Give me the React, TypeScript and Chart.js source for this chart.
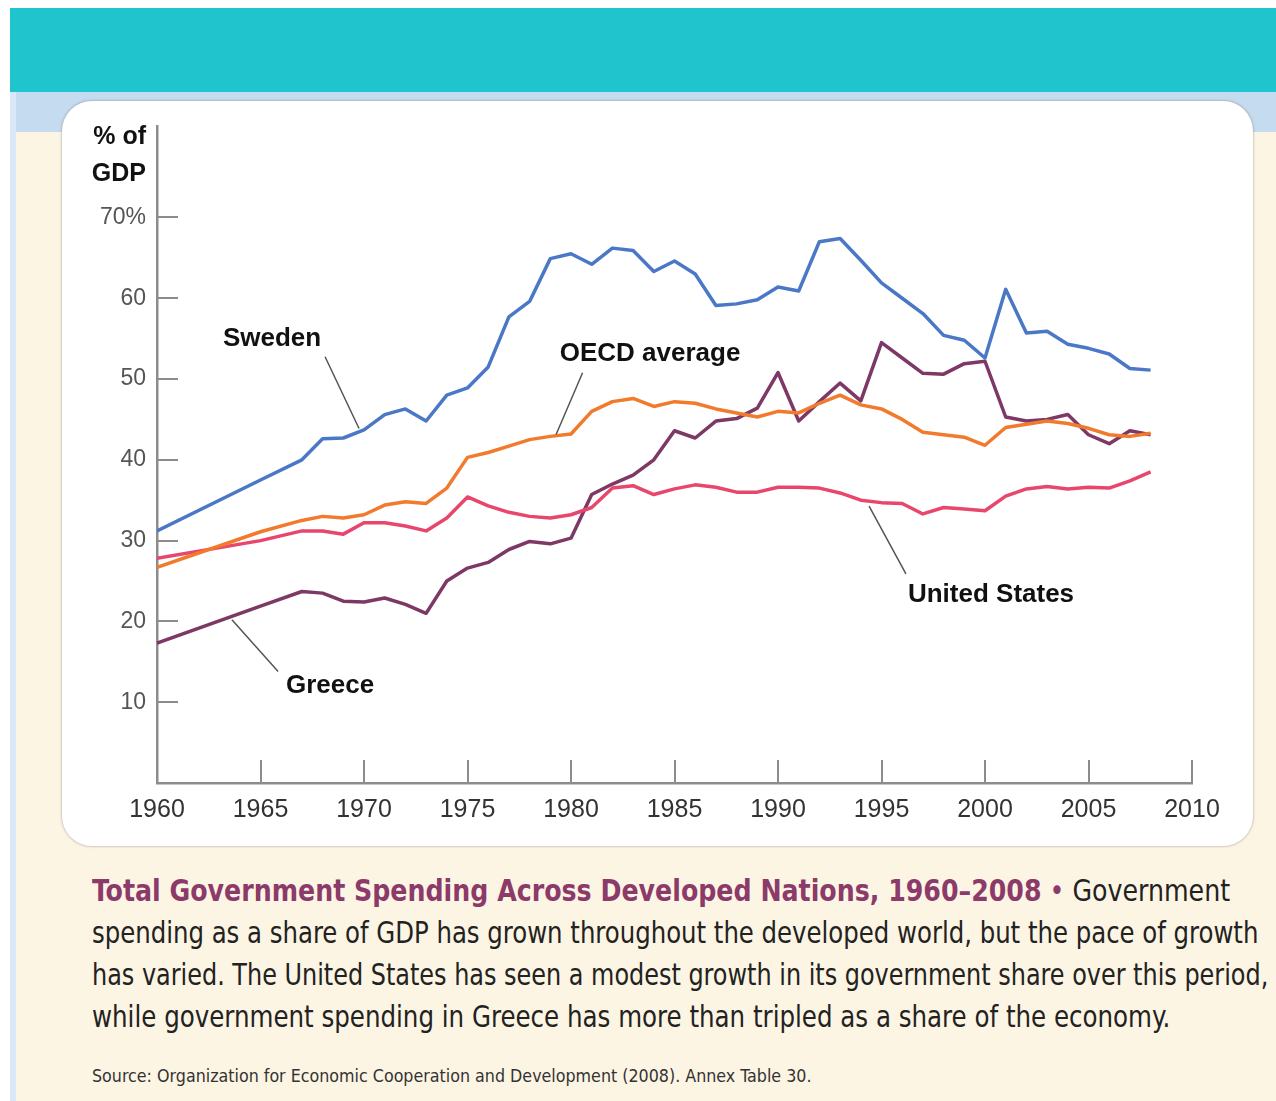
import React, { useEffect, useLayoutEffect, useRef } from "react";
import { Chart, registerables } from "chart.js";

Chart.register(...registerables);

// Years on the horizontal axis (gaps where the series are drawn as straight runs)
const years = [
  1960, 1961, 1962, 1963, 1964, 1965, 1966, 1967, 1968, 1969,
  1970, 1971, 1972, 1973, 1974, 1975, 1976, 1977, 1978, 1979,
  1980, 1981, 1982, 1983, 1984, 1985, 1986, 1987, 1988, 1989,
  1990, 1991, 1992, 1993, 1994, 1995, 1996, 1997, 1998, 1999,
  2000, 2001, 2002, 2003, 2004, 2005, 2006, 2007, 2008,
];

// Government spending, % of GDP
const sweden = [
  31.2, null, null, null, null, 37.5, null, 40.0, 42.6, 42.7,
  43.7, 45.6, 46.3, 44.8, 48.0, 48.9, 51.5, 57.7, 59.6, 64.9,
  65.5, 64.2, 66.2, 65.9, 63.3, 64.6, 63.0, 59.1, 59.3, 59.8,
  61.4, 60.9, 67.0, 67.4, 64.7, 61.9, 60.0, 58.1, 55.4, 54.8,
  52.6, 61.1, 55.7, 55.9, 54.3, 53.8, 53.1, 51.3, 51.1,
];
const oecdAverage = [
  26.7, null, null, null, null, 31.1, null, 32.5, 33.0, 32.8,
  33.2, 34.4, 34.8, 34.6, 36.5, 40.3, 40.9, 41.7, 42.5, 42.9,
  43.2, 46.0, 47.2, 47.6, 46.6, 47.2, 47.0, 46.3, 45.8, 45.3,
  46.0, 45.8, 47.0, 48.0, 46.8, 46.3, 45.0, 43.4, 43.1, 42.8,
  41.8, 44.0, 44.4, 44.8, 44.5, 43.9, 43.1, 42.9, 43.3,
];
const unitedStates = [
  27.8, null, null, null, null, 30.0, null, 31.2, 31.2, 30.8,
  32.2, 32.2, 31.8, 31.2, 32.8, 35.4, 34.3, 33.5, 33.0, 32.8,
  33.2, 34.1, 36.5, 36.8, 35.7, 36.4, 36.9, 36.6, 36.0, 36.0,
  36.6, 36.6, 36.5, 35.9, 35.0, 34.7, 34.6, 33.3, 34.1, 33.9,
  33.7, 35.5, 36.4, 36.7, 36.4, 36.6, 36.5, 37.4, 38.5,
];
const greece = [
  17.3, null, null, null, null, 21.9, null, 23.7, 23.5, 22.5,
  22.4, 22.9, 22.1, 21.0, 25.0, 26.6, 27.3, 28.9, 29.9, 29.6,
  30.3, 35.7, 37.0, 38.1, 40.0, 43.6, 42.7, 44.8, 45.1, 46.4,
  50.8, 44.8, 47.2, 49.5, 47.3, 54.5, 52.6, 50.7, 50.6, 51.9,
  52.2, 45.3, 44.8, 45.0, 45.6, 43.1, 42.0, 43.6, 43.1,
];

const xTicks = [1960, 1965, 1970, 1975, 1980, 1985, 1990, 1995, 2000, 2005, 2010];
const yTicks = [10, 20, 30, 40, 50, 60, 70];

const seriesNames = ["Sweden", "OECD average", "United States", "Greece"];
const seriesColors = ["#4a77c6", "#f27a2c", "#e8466c", "#7e3865"];

// Name tags with leader lines, placed in data coordinates
const nameTags = [
  { text: "Sweden", at: [1965.56, 54.97], from: [1968.12, 52.75], to: [1969.76, 43.87] },
  { text: "OECD average", at: [1983.82, 53.12], from: [1980.56, 50.78], to: [1979.28, 43.14] },
  { text: "United States", at: [2000.29, 23.29], from: [1994.4, 34.26], to: [1996.18, 25.88] },
  { text: "Greece", at: [1968.36, 12.08], from: [1963.62, 20.21], to: [1965.85, 13.8] },
];

const captionLines = [
  "spending as a share of GDP has grown throughout the developed world, but the pace of growth",
  "has varied. The United States has seen a modest growth in its government share over this period,",
  "while government spending in Greece has more than tripled as a share of the economy.",
];

const SANS = '"Liberation Sans", Arial, sans-serif';
const NARROW = '"Liberation Sans Narrow", "DejaVu Sans Condensed", "Liberation Sans", sans-serif';

// Draws the inward tick marks and the series name tags
const decorations = {
  id: "decorations",
  afterDraw(chart: any) {
    const { ctx, chartArea, scales } = chart;
    const x = scales.x;
    const y = scales.y;
    ctx.save();
    ctx.strokeStyle = "#8c8c8c";
    ctx.lineWidth = 2;
    ctx.beginPath();
    for (const v of yTicks) {
      const py = Math.round(y.getPixelForValue(v));
      ctx.moveTo(chartArea.left, py);
      ctx.lineTo(chartArea.left + 21, py);
    }
    for (const v of xTicks) {
      if (v === xTicks[0]) continue;
      const px = Math.round(x.getPixelForValue(v));
      ctx.moveTo(px, chartArea.bottom);
      ctx.lineTo(px, chartArea.bottom - 23);
    }
    ctx.stroke();

    ctx.strokeStyle = "#555";
    ctx.lineWidth = 1.5;
    ctx.beginPath();
    for (const t of nameTags) {
      ctx.moveTo(x.getPixelForValue(t.from[0]), y.getPixelForValue(t.from[1]));
      ctx.lineTo(x.getPixelForValue(t.to[0]), y.getPixelForValue(t.to[1]));
    }
    ctx.stroke();

    ctx.fillStyle = "#111";
    ctx.font = `bold 26px ${SANS}`;
    ctx.textAlign = "center";
    ctx.textBaseline = "middle";
    for (const t of nameTags) {
      ctx.fillText(t.text, x.getPixelForValue(t.at[0]), y.getPixelForValue(t.at[1]));
    }
    ctx.restore();
  },
};

function FitLine({ width, style, children }: { width: number; style?: any; children: any }) {
  const ref = useRef<HTMLSpanElement>(null);
  useLayoutEffect(() => {
    const el = ref.current;
    if (!el) return;
    const w = el.offsetWidth;
    if (w > 0) el.style.transform = `scaleX(${width / w})`;
  });
  return (
    <span
      ref={ref}
      style={{
        display: "inline-block",
        whiteSpace: "nowrap",
        transformOrigin: "left center",
        ...style,
      }}
    >
      {children}
    </span>
  );
}

function SpendingChart() {
  const canvasRef = useRef<HTMLCanvasElement>(null);

  useEffect(() => {
    const canvas = canvasRef.current;
    if (!canvas) return;
    const series = [sweden, oecdAverage, unitedStates, greece];
    const chart = new Chart(canvas, {
      type: "line",
      data: {
        datasets: series.map((vals, i) => ({
          label: seriesNames[i],
          data: years.map((yr, j) => ({ x: yr, y: vals[j] })),
          borderColor: seriesColors[i],
          backgroundColor: seriesColors[i],
          borderWidth: 3.5,
          pointRadius: 0,
          tension: 0,
          spanGaps: true,
          borderJoinStyle: "round",
        })),
      },
      options: {
        responsive: false,
        animation: false,
        devicePixelRatio: 1,
        layout: { padding: { left: 0, right: 61, top: 22, bottom: 23 } },
        plugins: { legend: { display: false }, tooltip: { enabled: false } },
        scales: {
          x: {
            type: "linear",
            min: 1960,
            max: 2010,
            afterBuildTicks: (scale: any) => {
              scale.ticks = xTicks.map((v) => ({ value: v }));
            },
            afterFit: (scale: any) => {
              scale.height = 40;
            },
            grid: { display: false, drawTicks: false },
            border: { display: true, color: "#8c8c8c", width: 2.5 },
            ticks: {
              padding: 12,
              color: "#333",
              font: { family: SANS, size: 25 },
              maxRotation: 0,
              autoSkip: false,
              callback: (v: any) => String(v),
            },
          },
          y: {
            type: "linear",
            min: 0,
            max: 81.34,
            afterBuildTicks: (scale: any) => {
              scale.ticks = yTicks.map((v) => ({ value: v }));
            },
            afterFit: (scale: any) => {
              scale.width = 95;
            },
            grid: { display: false, drawTicks: false },
            border: { display: true, color: "#8c8c8c", width: 2.5 },
            ticks: {
              padding: 11,
              color: "#555",
              font: { family: SANS, size: 23 },
              autoSkip: false,
              callback: (v: any) => (v === 70 ? "70%" : String(v)),
            },
          },
        },
      },
      plugins: [decorations],
    } as any);
    return () => chart.destroy();
  }, []);

  return <canvas ref={canvasRef} width={1191} height={745} style={{ display: "block" }} />;
}

export default function App() {
  return (
    <div
      style={{
        position: "absolute",
        left: 0,
        top: 0,
        width: 1276,
        height: 1101,
        background: "#ffffff",
        overflow: "hidden",
        fontFamily: SANS,
      }}
    >
      <div style={{ position: "absolute", left: 10, top: 8, width: 1266, height: 84, background: "#1fc4cc" }} />
      <div style={{ position: "absolute", left: 10, top: 92, width: 1266, height: 1009, background: "#fdf5e3" }} />
      <div style={{ position: "absolute", left: 10, top: 92, width: 1266, height: 40, background: "#c5dbef" }} />
      <div style={{ position: "absolute", left: 10, top: 92, width: 6, height: 1009, background: "#d8e8f7" }} />

      <div
        style={{
          position: "absolute",
          left: 62,
          top: 101,
          width: 1191,
          height: 745,
          background: "#ffffff",
          borderRadius: 30,
          boxShadow: "0 0 2px 1px rgba(120,120,120,0.35)",
          overflow: "hidden",
        }}
      >
        <SpendingChart />
      </div>

      <div
        style={{
          position: "absolute",
          left: 60,
          top: 117,
          width: 86,
          textAlign: "right",
          fontWeight: "bold",
          fontSize: 25,
          lineHeight: "37px",
          color: "#111",
        }}
      >
        <div>% of</div>
        <div>GDP</div>
      </div>

      <div style={{ position: "absolute", left: 92, top: 870, lineHeight: "42px", fontSize: 30, color: "#222", fontFamily: NARROW }}>
        <div>
          <FitLine width={1138}>
            <span style={{ color: "#8b3a6a", fontWeight: "bold" }}>
              Total Government Spending Across Developed Nations, 1960–2008
            </span>
            <span style={{ color: "#8b3a6a" }}> • </span>
            <span>Government</span>
          </FitLine>
        </div>
        <div>
          <FitLine width={1166}>{captionLines[0]}</FitLine>
        </div>
        <div>
          <FitLine width={1176}>{captionLines[1]}</FitLine>
        </div>
        <div>
          <FitLine width={1078}>{captionLines[2]}</FitLine>
        </div>
      </div>

      <div style={{ position: "absolute", left: 92, top: 1064, lineHeight: "24px", fontSize: 17, color: "#333", fontFamily: NARROW }}>
        <FitLine width={720}>
          Source: Organization for Economic Cooperation and Development (2008). Annex Table 30.
        </FitLine>
      </div>
    </div>
  );
}
